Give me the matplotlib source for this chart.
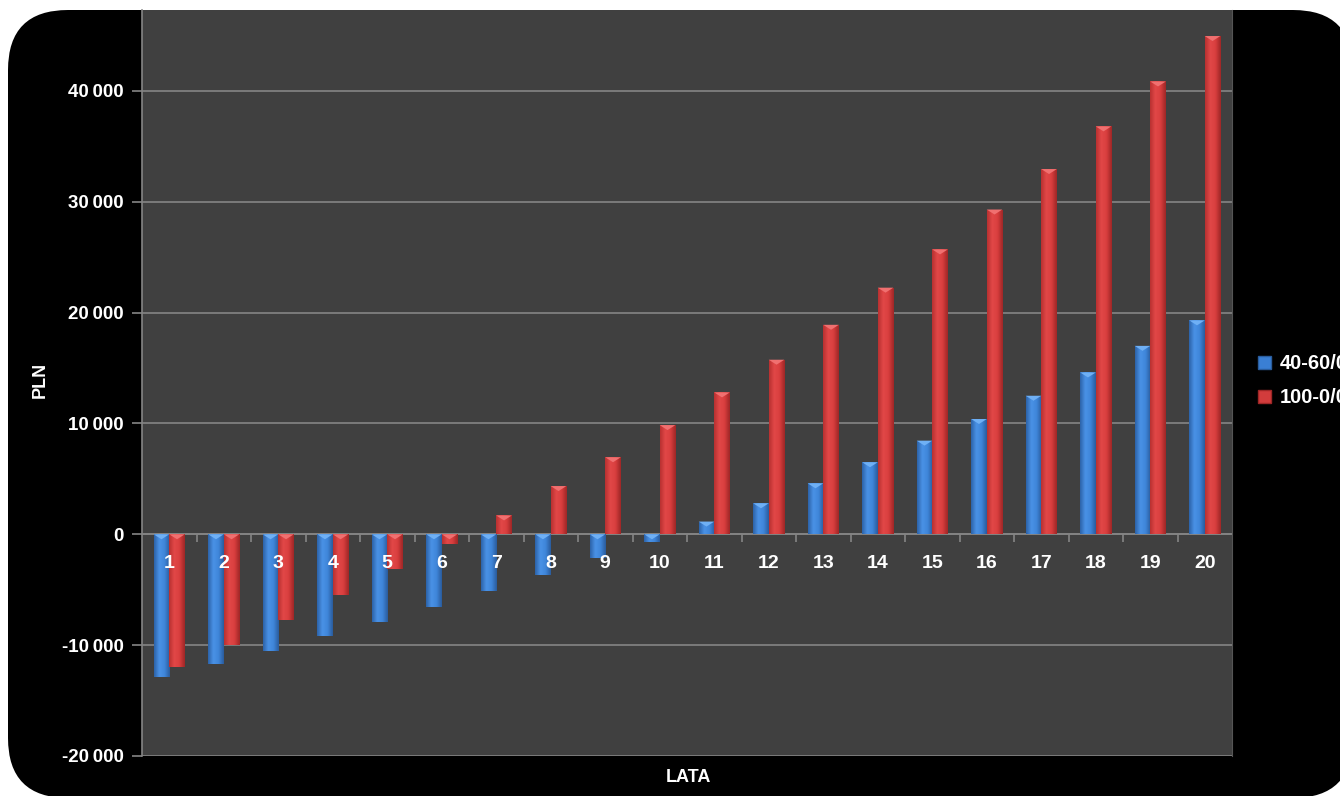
import numpy as np
import matplotlib
matplotlib.use('Agg')
import matplotlib.pyplot as plt
from matplotlib.patches import FancyBboxPatch, Patch
from matplotlib.transforms import IdentityTransform
from matplotlib.ticker import FuncFormatter, MultipleLocator, FixedLocator
from matplotlib.colors import LinearSegmentedColormap

# === data ===
years = list(range(1, 21))
s_4060 = [-12900, -11700, -10500, -9200, -7950, -6600, -5100, -3650, -2150, -650,
          1150, 2800, 4600, 6500, 8450, 10400, 12500, 14600, 17000, 19300]
s_100 = [-12000, -10000, -7700, -5500, -3150, -850, 1700, 4350, 6950, 9850,
         12800, 15750, 18900, 22250, 25700, 29300, 32950, 36800, 40850, 44950]
labels = ['40-60/0', '100-0/0']

BG_PLOT = '#404040'
GRID = '#858585'
BLUE = '#3a7fd4'
RED = '#d23c3c'

plt.rcParams['font.family'] = ['Liberation Sans', 'DejaVu Sans']
plt.rcParams['font.weight'] = 'bold'

W, H = 1340, 796
fig = plt.figure(figsize=(W / 100, H / 100), dpi=100, facecolor='white')

# black rounded frame (pixel coords)
frame = FancyBboxPatch((8, -2), 1345, 788, boxstyle='round,pad=0,rounding_size=60',
                       transform=IdentityTransform(), facecolor='black',
                       edgecolor='none', zorder=0)
fig.add_artist(frame)

ax = fig.add_axes([142 / W, (H - 756) / H, 1090 / W, 746 / H])
ax.set_facecolor(BG_PLOT)

x = np.arange(len(years))
bw = 0.285
bars_b = ax.bar(x - bw / 2, s_4060, bw, color=BLUE, zorder=3, linewidth=0)
bars_r = ax.bar(x + bw / 2, s_100, bw, color=RED, zorder=3, linewidth=0)

cm_b = LinearSegmentedColormap.from_list('b', ['#2c62a8', '#4a92e6', '#3f86da', '#2a5c9c'])
cm_r = LinearSegmentedColormap.from_list('r', ['#b83030', '#e24848', '#d83e3e', '#9e2626'])
grad = np.linspace(0, 1, 64).reshape(1, -1)

def shade(bars, cmap, top_col):
    for b in bars:
        x0, y0 = b.get_x(), b.get_y()
        w, h = b.get_width(), b.get_height()
        im = ax.imshow(grad, cmap=cmap, extent=(x0, x0 + w, y0, y0 + h),
                       aspect='auto', interpolation='bicubic', zorder=4)
        im.set_clip_path(b)
        top = max(y0, y0 + h)
        bev = min(450, abs(h))
        ax.fill([x0, x0 + w, x0 + w / 2], [top, top, top - bev],
                color=top_col, zorder=5, linewidth=0)

shade(bars_b, cm_b, '#6fb0f5')
shade(bars_r, cm_r, '#f07070')

ax.set_xlim(-0.5, len(years) - 0.5)
ax.set_ylim(-20000, 47300)

# y axis + gridlines behind the bars
ax.yaxis.set_major_locator(MultipleLocator(10000))
ax.yaxis.set_major_formatter(FuncFormatter(
    lambda v, p: f'{int(v):,}'.replace(',', '\u2009')))
ax.grid(axis='y', color=GRID, linewidth=1.2)
ax.yaxis.set_zorder(1)
ax.tick_params(axis='y', colors=GRID, length=7, width=1.2, labelcolor='white',
               labelsize=13.5, pad=6)

# x axis on the zero line, labels above the bars
ax.spines['bottom'].set_position(('data', 0))
ax.spines['bottom'].set_color(GRID)
ax.spines['bottom'].set_linewidth(1.2)
ax.spines['bottom'].set_zorder(2)
ax.xaxis.set_zorder(10)
ax.set_xticks(x)
ax.set_xticklabels([str(y) for y in years])
ax.xaxis.set_minor_locator(FixedLocator(x[:-1] + 0.5))
ax.tick_params(axis='x', which='major', length=0, labelcolor='white',
               labelsize=14, pad=15)
ax.tick_params(axis='x', which='minor', length=6, width=1.2, color=GRID)
for lab in ax.get_xticklabels() + ax.get_yticklabels():
    lab.set_fontweight('bold')

ax.spines['left'].set_color(GRID)
ax.spines['left'].set_linewidth(1.2)
ax.spines['top'].set_visible(False)
ax.spines['right'].set_color('#555555')

fig.text(40 / W, 1 - 380 / H, 'PLN', rotation=90, color='white', fontsize=13,
         fontweight='bold', ha='center', va='center')
fig.text(688 / W, 1 - 778 / H, 'LATA', color='white', fontsize=13,
         fontweight='bold', ha='center', va='center')

handles = [Patch(facecolor=BLUE, edgecolor='#2a5c9c'),
           Patch(facecolor=RED, edgecolor='#9e2626')]
leg = ax.legend(handles, labels, loc='center left', bbox_to_anchor=(1.015, 0.503),
                frameon=False, handlelength=0.6, handleheight=0.6,
                handletextpad=0.45, labelspacing=0.75, borderpad=0,
                prop={'size': 14.5, 'weight': 'bold'})
for t in leg.get_texts():
    t.set_color('white')

fig.savefig('out.png', dpi=100, facecolor='white')
